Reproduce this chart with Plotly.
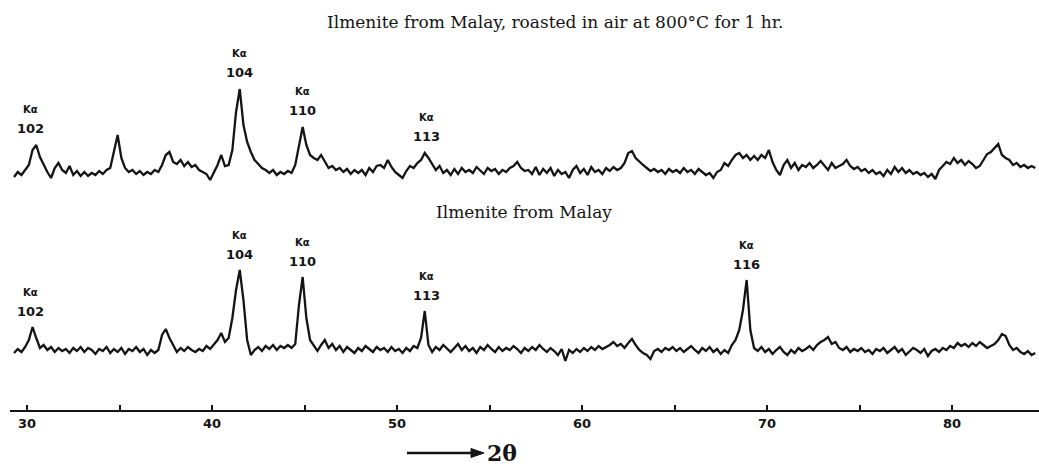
import numpy as np
import plotly.graph_objects as go

# Diffractometer scan: first angle and step, degrees 2θ
SCAN_START = 29.3
SCAN_STEP = 0.2

# Ilmenite from Malay, roasted in air at 800°C for 1 hr (counts, arbitrary units)
ROASTED_COUNTS = [
    8, 13, 10, 15,
    20, 35, 40, 28, 20,   13, 7, 17, 22, 15,      # 30-31
    12, 19, 10, 14, 9,    13, 9, 12, 10, 14,      # 32-33
    11, 15, 17, 35, 50,   27, 17, 13, 15, 11,     # 34-35
    14, 10, 13, 11, 15,   13, 20, 30, 33, 23,     # 36-37
    21, 25, 19, 23, 18,   20, 15, 13, 11, 5,      # 38-39
    13, 20, 30, 19, 20,   35, 73, 96, 60, 43,     # 40-41
    33, 25, 21, 17, 15,   12, 15, 10, 13, 11,     # 42-43
    14, 12, 20, 40, 58,   40, 30, 27, 25, 30,     # 44-45
    23, 17, 19, 15, 17,   13, 16, 11, 15, 12,     # 46-47
    15, 10, 17, 13, 19,   20, 17, 25, 18, 13,     # 48-49
    10, 7, 14, 19, 17,    22, 25, 32, 27, 21,     # 50-51
    15, 19, 12, 15, 10,   16, 11, 17, 13, 15,     # 52-53
    12, 18, 14, 11, 17,   14, 16, 11, 15, 13,     # 54-55
    17, 19, 23, 17, 14,   15, 11, 18, 10, 16,     # 56-57
    12, 17, 9, 15, 11,    13, 7, 15, 19, 12,      # 58-59
    16, 10, 18, 13, 15,   11, 17, 14, 18, 15,     # 60-61
    17, 22, 32, 34, 27,   23, 20, 17, 14, 16,     # 62-63
    13, 15, 11, 16, 13,   15, 12, 17, 13, 15,     # 64-65
    11, 16, 13, 10, 12,   7, 13, 15, 22, 19,      # 66-67
    25, 30, 32, 27, 30,   25, 29, 25, 30, 27,     # 68-69
    35, 23, 15, 10, 20,   25, 17, 22, 15, 20,     # 70-71
    18, 22, 17, 20, 24,   19, 15, 22, 17, 19,     # 72-73
    21, 25, 19, 16, 18,   14, 16, 12, 15, 11,     # 74-75
    13, 9, 15, 11, 18,    13, 17, 12, 15, 11,     # 76-77
    13, 10, 12, 8, 11,    6, 15, 19, 23, 21,      # 78-79
    27, 22, 25, 20, 24,   21, 17, 19, 25, 31,     # 80-81
    33, 37, 41, 30, 27,   25, 20, 22, 18, 20,     # 82-83
    17, 19, 17,                                   # 84
]

# Ilmenite from Malay, as received
RAW_COUNTS = [
    9, 13, 10, 15,
    22, 35, 24, 14, 17,   12, 15, 10, 14, 11,     # 30-31
    13, 9, 14, 11, 15,    10, 14, 12, 8, 13,      # 32-33
    11, 15, 9, 13, 10,    14, 8, 13, 11, 15,      # 34-35
    10, 13, 7, 12, 9,     12, 27, 33, 24, 17,     # 36-37
    10, 14, 11, 15, 12,   10, 13, 11, 16, 13,     # 38-39
    17, 22, 29, 20, 24,   44, 72, 92, 62, 22,     # 40-41
    7, 12, 15, 11, 16,    13, 17, 12, 16, 14,     # 42-43
    17, 14, 18, 57, 85,   44, 22, 17, 11, 17,     # 44-45
    22, 14, 18, 12, 16,   10, 15, 12, 9, 14,      # 46-47
    11, 16, 13, 10, 15,   12, 14, 10, 15, 11,     # 48-49
    13, 9, 14, 11, 16,    14, 24, 51, 17, 10,     # 50-51
    15, 12, 17, 13, 10,   14, 18, 12, 16, 11,     # 52-53
    14, 9, 15, 12, 17,    13, 10, 15, 11, 14,     # 54-55
    12, 16, 13, 9, 14,    11, 15, 12, 17, 13,     # 56-57
    10, 14, 11, 7, 13,    1, 12, 9, 13, 10,       # 58-59
    14, 11, 15, 12, 16,   13, 15, 17, 20, 16,     # 60-61
    18, 14, 19, 23, 17,   12, 9, 7, 3, 11,        # 62-63
    13, 10, 14, 12, 15,   11, 14, 10, 13, 16,     # 64-65
    12, 9, 14, 11, 15,    10, 13, 8, 12, 9,       # 66-67
    17, 22, 32, 52, 82,   32, 14, 11, 15, 10,     # 68-69
    13, 8, 12, 15, 10,    7, 12, 9, 14, 11,       # 70-71
    13, 16, 12, 17, 20,   22, 25, 18, 20, 14,     # 72-73
    12, 15, 10, 13, 11,   14, 10, 12, 8, 13,      # 74-75
    11, 14, 9, 12, 15,    10, 13, 7, 11, 14,      # 76-77
    12, 9, 13, 6, 11,     13, 10, 14, 12, 16,     # 78-79
    14, 19, 16, 18, 15,   19, 16, 20, 17, 14,     # 80-81
    16, 18, 22, 28, 26,   17, 12, 14, 10, 8,      # 82-83
    11, 7, 9,                                     # 84
]

# Indexed Kα reflections (hkl) and their angles
ROASTED_HKL = ["102", "104", "110", "113"]
ROASTED_HKL_THETA = [30.2, 41.5, 44.9, 51.6]
RAW_HKL = ["102", "104", "110", "113", "116"]
RAW_HKL_THETA = [30.2, 41.5, 44.9, 51.6, 68.9]

MAJOR_TICKS = [30, 40, 50, 60, 70, 80]
MAJOR_TEXT = ["30", "40", "50", "60", "70", "80"]
MINOR_TICKS = [35, 45, 55, 65, 75]

ROASTED_TITLE = "Ilmenite from Malay, roasted in air at 800°C for 1 hr."
RAW_TITLE = "Ilmenite from Malay"

two_theta = np.round(SCAN_START + SCAN_STEP * np.arange(len(RAW_COUNTS)), 2)

INK = "#141414"
SERIF = "DejaVu Serif"
LABEL_FONT = dict(family="DejaVu Sans", size=13, color=INK, weight="bold")
K_FONT = dict(family="DejaVu Sans", size=10, color=INK, weight="bold")

# page geometry used for the free-standing decorations
WIDTH, HEIGHT = 1039, 466
M_L, M_B = 10, 55
PLOT_W, PLOT_H = WIDTH - M_L, HEIGHT - M_B


def px_x(px):
    return (px - M_L) / PLOT_W


def px_y(py):
    return (PLOT_H - py) / PLOT_H


fig = go.Figure()
fig.add_trace(go.Scatter(x=two_theta, y=RAW_COUNTS, mode="lines",
                         line=dict(color=INK, width=2.3), yaxis="y",
                         hoverinfo="skip", showlegend=False))
fig.add_trace(go.Scatter(x=two_theta, y=ROASTED_COUNTS, mode="lines",
                         line=dict(color=INK, width=2.3), yaxis="y2",
                         hoverinfo="skip", showlegend=False))

annotations = []


def peak_labels(hkl, thetas, counts, yref):
    counts = np.asarray(counts)
    for label, th in zip(hkl, thetas):
        near = np.abs(two_theta - th) <= 0.35
        top = float(counts[near].max())
        annotations.append(dict(x=th, y=top, xref="x", yref=yref, text=label,
                                showarrow=False, xanchor="center",
                                yanchor="middle", yshift=16, font=LABEL_FONT))
        annotations.append(dict(x=th, y=top, xref="x", yref=yref,
                                text="Kα", showarrow=False,
                                xanchor="center", yanchor="middle", yshift=35,
                                font=K_FONT))


peak_labels(ROASTED_HKL, ROASTED_HKL_THETA, ROASTED_COUNTS, "y2")
peak_labels(RAW_HKL, RAW_HKL_THETA, RAW_COUNTS, "y")

annotations += [
    dict(x=px_x(555), y=px_y(22), xref="paper", yref="paper",
         text=ROASTED_TITLE, showarrow=False, xanchor="center",
         yanchor="middle", font=dict(family=SERIF, size=17, color=INK)),
    dict(x=px_x(524), y=px_y(212), xref="paper", yref="paper",
         text=RAW_TITLE, showarrow=False, xanchor="center",
         yanchor="middle", font=dict(family=SERIF, size=17, color=INK)),
    dict(x=px_x(502), y=px_y(453), xref="paper", yref="paper", text="2θ",
         showarrow=False, xanchor="center", yanchor="middle",
         font=dict(family=SERIF, size=22, color=INK, weight="bold")),
]

# direction arrow beneath the scale
shapes = [
    dict(type="line", xref="paper", yref="paper",
         x0=px_x(407), y0=px_y(453), x1=px_x(474), y1=px_y(453),
         line=dict(color=INK, width=2.5)),
    dict(type="path", xref="paper", yref="paper",
         path=(f"M {px_x(471)},{px_y(448.5)} L {px_x(484)},{px_y(453)} "
               f"L {px_x(471)},{px_y(457.5)} Z"),
         fillcolor=INK, line=dict(color=INK, width=1)),
]

fig.update_layout(
    width=WIDTH, height=HEIGHT,
    margin=dict(l=M_L, r=0, t=0, b=M_B),
    paper_bgcolor="white", plot_bgcolor="white",
    xaxis=dict(range=[29.081, 84.703], anchor="free", position=0,
               showgrid=False, zeroline=False, showline=True,
               linewidth=2, linecolor=INK,
               ticks="inside", ticklen=5, tickwidth=2, tickcolor=INK,
               tickvals=MAJOR_TICKS, ticktext=MAJOR_TEXT,
               tickfont=LABEL_FONT,
               minor=dict(tickvals=MINOR_TICKS, ticks="inside", ticklen=5,
                          tickwidth=2, tickcolor=INK, showgrid=False)),
    yaxis=dict(domain=[0.11922, 0.36253], range=[0, 100], visible=False),
    yaxis2=dict(domain=[0.54988, 0.79319], range=[0, 100], visible=False),
    annotations=annotations,
    shapes=shapes,
)

fig.write_html("out.html", config={"displayModeBar": False})
